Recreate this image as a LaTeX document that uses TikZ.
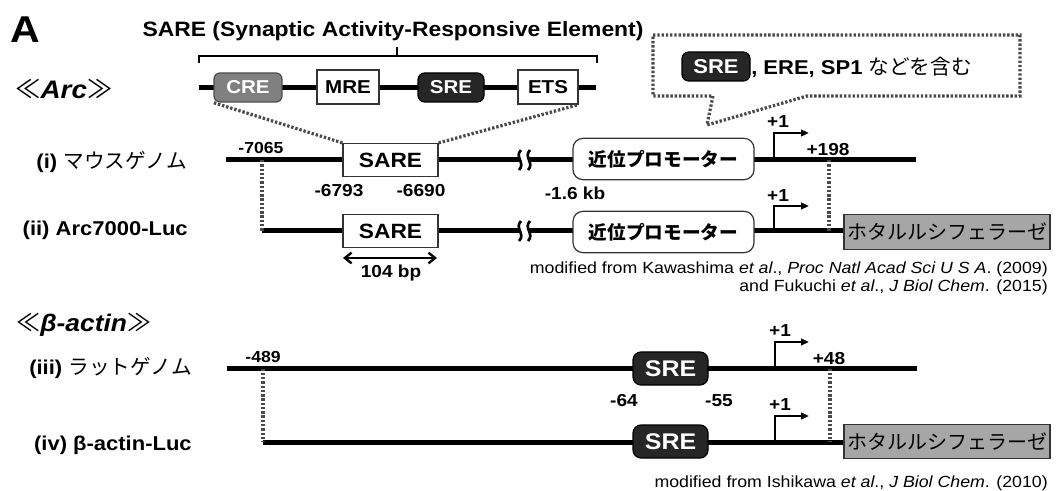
\documentclass[tikz,border=0pt]{standalone}
\usepackage{fontspec}
\setmainfont{Liberation Sans}[FakeStretch=1.1]
\newfontfamily\jp{Noto Sans CJK JP}
\usetikzlibrary{arrows.meta}
\definecolor{dk}{HTML}{262626}
\definecolor{cregray}{HTML}{808080}
\definecolor{lucgray}{HTML}{A6A6A6}
\definecolor{dotgray}{HTML}{4A4A4A}
\begin{document}
\begin{tikzpicture}[x=0.75pt,y=-0.75pt,
  gline/.style={line width=3.75pt},
  dotl/.style={draw=dotgray,line width=2.4pt,dash pattern=on 1.8pt off 1.4pt},
  wbox/.style={draw=black!80,fill=white,line width=0.9pt,inner sep=0pt},
  gbox/.style={draw=black!70,fill=cregray,text=white,rounded corners=4.5pt,line width=0.9pt,inner sep=0pt},
  dbox/.style={draw=black,fill=dk,text=white,rounded corners=5pt,line width=0.9pt,inner sep=0pt},
  pbox/.style={draw=black!80,fill=white,rounded corners=7.5pt,line width=0.9pt,inner sep=0pt,minimum width=135.75pt,minimum height=31pt,font=\jp\bfseries\fontsize{14}{16}\selectfont},
  lbox/.style={draw=black!80,fill=lucgray,line width=0.9pt,inner sep=0pt,minimum width=154.5pt,minimum height=26pt,font=\jp\fontsize{15}{17}\selectfont},
  lbl/.style={font=\bfseries\fontsize{15}{17}\selectfont,inner sep=0pt},
  num/.style={font=\bfseries\fontsize{13}{15}\selectfont,inner sep=0pt},
  cite/.style={font=\fontsize{12.1}{14}\selectfont,inner sep=0pt},
  tss/.style={line width=1.8pt,-{Triangle[length=6pt,width=5pt]}},
]
\useasboundingbox (0,0) rectangle (1063,491);

% panel letter and title
\node[font=\bfseries\fontsize{28}{30}\selectfont,anchor=west,inner sep=0pt] (A) at (10,30) {A};
\node[lbl,font=\bfseries\fontsize{15.6}{17}\selectfont] (title) at (393,31) {SARE (Synaptic Activity-Responsive Element)};

% bracket
\coordinate (bl) at (199,63); \coordinate (br) at (597,63);
\coordinate (bm) at (397,56); \coordinate (bt) at (397,47);
\draw[line width=0.8pt] (bl) -- (bl |- bm) -- (br |- bm) -- (br);
\draw[line width=0.8pt] (bm) -- (bt);

% element row
\coordinate (el) at (199,88); \coordinate (er) at (596,88);
\draw[gline] (el) -- (er);
\node[gbox,minimum width=51pt,minimum height=21.75pt,font=\bfseries\fontsize{14}{15}\selectfont] (cre) at (248,87.5) {CRE};
\node[wbox,minimum width=46.5pt,minimum height=25.5pt,font=\bfseries\fontsize{14}{15}\selectfont] (mre) at (348,87) {MRE};
\node[dbox,minimum width=49.5pt,minimum height=21.75pt,font=\bfseries\fontsize{14}{15}\selectfont] (sre0) at (451,87.5) {SRE};
\node[wbox,minimum width=45pt,minimum height=25.5pt,font=\bfseries\fontsize{14}{15}\selectfont] (ets) at (548,87) {ETS};

% Arc heading
\node[anchor=west,inner sep=0pt,font=\fontsize{19}{21}\selectfont] (arc) at (15,89) {{\jp ≪}\textbf{\textit{Arc}}{\jp ≫}};

% callout
\coordinate (c1) at (653,35); \coordinate (c2) at (1020,35);
\coordinate (c3) at (1020,96); \coordinate (c4) at (807,96);
\coordinate (ctip) at (707,125); \coordinate (c5) at (713,96);
\coordinate (c6) at (653,96);
\draw[dotl] (c1) -- (c2) -- (c3) -- (c4) -- (ctip) -- (c5) -- (c6) -- cycle;
\node[dbox,minimum width=51pt,minimum height=21.75pt,font=\bfseries\fontsize{15}{16}\selectfont] (sreC) at (716,66.5) {SRE};
\node[anchor=west,inner sep=0pt,font=\bfseries\fontsize{15}{17}\selectfont] (ctext) at (751,67) {, ERE, SP1 {\jp\mdseries\fontsize{15.5}{17}\selectfont などを含む}};

% ---------- row (i)
\coordinate (r1l) at (226,160); \coordinate (r1r) at (916,160);
\draw[gline] (r1l) -- (r1r);
\node[lbl,anchor=east] (lab1) at (187,162) {(i) {\jp\mdseries\fontsize{15.5}{17}\selectfont マウスゲノム}};
\node[wbox,minimum width=71.25pt,minimum height=24.75pt,font=\bfseries\fontsize{15.5}{16}\selectfont] (sare1) at (390.5,160) {SARE};
\node[pbox] (prom1) at (663.5,159) {近位プロモーター};
\node[num,font=\bfseries\fontsize{12}{13}\selectfont] (n7065) at (261,148) {-7065};
\node[num] (n6793) at (339,191) {-6793};
\node[num] (n6690) at (421,191) {-6690};
\node[num] (n16) at (575,193) {-1.6 kb};
\coordinate (t1a) at (774,160); \coordinate (t1b) at (774,133); \coordinate (t1c) at (809,133);
\draw[tss] (t1a) -- (t1b) -- (t1c);
\node[num] (p1a) at (778,122) {+1};
\node[num] (p198) at (828,150) {+198};

% dotted zoom lines from SARE element row
\draw[dotl] (sare1.north west) -- (cre.south west);
\draw[dotl] (sare1.north east) -- (ets.south east);

% ---------- row (ii)
\coordinate (r2l) at (262,231); \coordinate (r2r) at (844,231);
\draw[gline] (r2l) -- (r2r);
\node[lbl,anchor=east] (lab2) at (188,230) {(ii) Arc7000-Luc};
\node[wbox,minimum width=71.25pt,minimum height=24.75pt,font=\bfseries\fontsize{15.5}{16}\selectfont] (sare2) at (390.5,231) {SARE};
\node[pbox] (prom2) at (663.5,232) {近位プロモーター};
\node[lbox] (luc1) at (947,232) {ホタルルシフェラーゼ};
\coordinate (t2a) at (774,231); \coordinate (t2b) at (774,206); \coordinate (t2c) at (809,206);
\draw[tss] (t2a) -- (t2b) -- (t2c);
\node[num] (p1b) at (778,196) {+1};
\draw[dotl] (r1l -| r2l) -- (r2l);
\coordinate (d198a) at (829,160); \coordinate (d198b) at (829,231);
\draw[dotl] (d198a) -- (d198b);
\coordinate (a104l) at (343,258); \coordinate (a104r) at (437,258);
\draw[line width=1.8pt,{Straight Barb[length=5pt,width=8pt]}-{Straight Barb[length=5pt,width=8pt]}] (a104l) -- (a104r);
\node[num] (n104) at (391,273) {104 bp};

% breaks
\foreach \yy in {160,231}{
  \fill[white] (521,\yy-10) .. controls (514,\yy-3) and (526,\yy+3) .. (519,\yy+10)
     -- (528,\yy+10) .. controls (535,\yy+3) and (523,\yy-3) .. (530,\yy-10) -- cycle;
  \draw[line width=2pt] (521,\yy-10) .. controls (514,\yy-3) and (526,\yy+3) .. (519,\yy+10);
  \draw[line width=2pt] (530,\yy-10) .. controls (523,\yy-3) and (535,\yy+3) .. (528,\yy+10);
}

% citations 1
\node[cite,anchor=east] (cit1) at (1048,269) {modified from Kawashima \textit{et al}., \textit{Proc Natl Acad Sci U S A}. (2009)};
\node[cite,anchor=east] (cit2) at (1048,287) {and Fukuchi \textit{et al}., \textit{J Biol Chem}. (2015)};

% beta-actin heading
\node[anchor=west,inner sep=0pt,font=\fontsize{18}{20}\selectfont] (bact) at (16,325) {{\jp ≪}\textbf{\textit{β-actin}}{\jp ≫}};

% ---------- row (iii)
\coordinate (r3l) at (227,368.5); \coordinate (r3r) at (917,368.5);
\draw[gline] (r3l) -- (r3r);
\node[lbl,anchor=east] (lab3) at (192,368) {(iii) {\jp\mdseries\fontsize{15.5}{17}\selectfont ラットゲノム}};
\node[dbox,rounded corners=6pt,minimum width=56.25pt,minimum height=24.75pt,font=\bfseries\fontsize{17}{19}\selectfont] (sre3) at (670.5,368.5) {SRE};
\node[num,font=\bfseries\fontsize{12}{13}\selectfont] (n489) at (263,357) {-489};
\node[num] (n64) at (624,401) {-64};
\node[num] (n55) at (719,401) {-55};
\coordinate (t3a) at (775,368.5); \coordinate (t3b) at (775,342); \coordinate (t3c) at (809,342);
\draw[tss] (t3a) -- (t3b) -- (t3c);
\node[num] (p1c) at (780,331) {+1};
\node[num] (p48) at (829,359) {+48};

% ---------- row (iv)
\coordinate (r4l) at (263,442); \coordinate (r4r) at (844,442);
\draw[gline] (r4l) -- (r4r);
\node[lbl,anchor=east] (lab4) at (192,445) {(iv) β-actin-Luc};
\node[dbox,rounded corners=6pt,minimum width=56.25pt,minimum height=24.75pt,font=\bfseries\fontsize{17}{19}\selectfont] (sre4) at (670.5,441.5) {SRE};
\node[lbox] (luc2) at (947,441.5) {ホタルルシフェラーゼ};
\coordinate (t4a) at (775,442); \coordinate (t4b) at (775,416); \coordinate (t4c) at (809,416);
\draw[tss] (t4a) -- (t4b) -- (t4c);
\node[num] (p1d) at (780,405) {+1};
\draw[dotl] (r3l -| r4l) -- (r4l);
\coordinate (d48a) at (830,368.5); \coordinate (d48b) at (830,442);
\draw[dotl] (d48a) -- (d48b);

\node[cite,anchor=east] (cit3) at (1048,483) {modified from Ishikawa \textit{et al}., \textit{J Biol Chem}. (2010)};
\end{tikzpicture}
\end{document}
